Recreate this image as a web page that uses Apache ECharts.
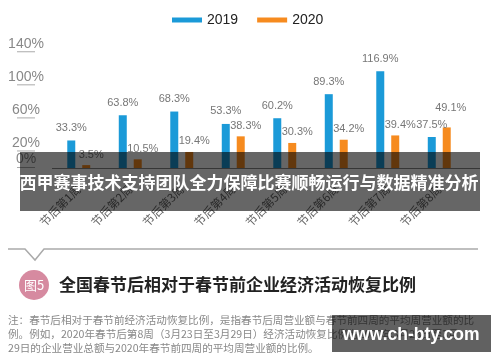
<!DOCTYPE html>
<html><head><meta charset="utf-8">
<script src="https://cdn.jsdelivr.net/npm/echarts@6/dist/echarts.min.js"></script>
<style>html,body{margin:0;padding:0;background:#fff}#c{width:500px;height:362px}</style>
</head><body><div id="c"></div>
<script>
const categories = ['节后第1周','节后第2周','节后第3周','节后第4周','节后第5周','节后第6周','节后第7周','节后第8周'];
const series2019 = [33.3, 63.8, 68.3, 53.3, 60.2, 89.3, 116.9, 37.5];
const series2020 = [3.5, 10.5, 19.4, 38.3, 30.3, 34.2, 39.4, 49.1];
const yTickValues = [0, 20, 60, 100, 140];
const yTickLabels = ['0%', '20%', '60%', '100%', '140%'];
const legendNames = ['2019', '2020'];
const overlayTitle = '西甲赛事技术支持团队全力保障比赛顺畅运行与数据精准分析';
const figTag = '图5';
const figTitle = '全国春节后相对于春节前企业经济活动恢复比例';
const notes = [
  '注：春节后相对于春节前经济活动恢复比例，是指春节后周营业额与春节前四周的平均周营业额的比',
  '例。例如，2020年春节后第8周（3月23日至3月29日）经济活动恢复比例为2020年3月23日至3月',
  '29日的企业营业总额与2020年春节前四周的平均周营业额的比例。'
];
const watermark = 'www.ch-bty.com';

const SANS = '"Liberation Sans", "Noto Sans CJK SC", sans-serif';
const CJK = '"Noto Sans CJK SC", sans-serif';
const chart = echarts.init(document.getElementById('c'), null, {renderer: 'canvas'});

const data2020 = series2020.map((v, i) => i === series2020.length - 1 ? {value: v, label: {offset: [4, -9]}} : v);

chart.setOption({
  animation: false,
  legend: {
    data: legendNames, left: 167, top: 8, icon: 'rect', itemWidth: 30, itemHeight: 5, itemGap: 19,
    textStyle: {fontSize: 14, color: '#222', fontFamily: SANS}
  },
  grid: {left: 53, width: 412, top: 44, height: 124},
  xAxis: {
    type: 'category', data: categories,
    axisLine: {show: false}, axisTick: {show: false},
    axisLabel: {interval: 0, rotate: 45, fontSize: 11.5, color: '#666', margin: 19, fontFamily: CJK}
  },
  yAxis: {
    type: 'value', min: 0, max: 150, interval: 20,
    splitLine: {show: false}, axisLine: {show: false}, axisTick: {show: false},
    axisLabel: {
      margin: 27, align: 'center', verticalAlign: 'bottom',
      formatter: v => { const k = yTickValues.indexOf(v); return k < 0 ? '' : '{t|' + yTickLabels[k] + '}\n{l| }'; },
      rich: {
        t: {fontSize: 14, color: '#888', fontFamily: SANS, lineHeight: 15, align: 'center'},
        l: {width: 18, height: 1, lineHeight: 1, fontSize: 1, backgroundColor: '#aaa', align: 'center'}
      }
    }
  },
  series: [
    {name: legendNames[0], type: 'bar', data: series2019, barWidth: 8, barGap: '87%',
     itemStyle: {color: '#1b9ad8'},
     label: {show: true, position: 'top', distance: 7, formatter: '{c}%', fontSize: 11, color: '#777', fontFamily: SANS}},
    {name: legendNames[1], type: 'bar', data: data2020, barWidth: 8,
     itemStyle: {color: '#f68b1f'},
     label: {show: true, position: 'top', distance: 5, offset: [5, 0], formatter: '{c}%', fontSize: 11, color: '#777', fontFamily: SANS}}
  ],
  graphic: [
    {type: 'line', z: 50, shape: {x1: 52, y1: 168.5, x2: 480, y2: 168.5}, style: {stroke: '#888', lineWidth: 1}},
    {type: 'rect', z: 100, shape: {x: 20, y: 152, width: 460, height: 59}, style: {fill: 'rgba(0,0,0,0.6)'}},
    {type: 'text', z: 101, style: {x: 249, y: 183, text: overlayTitle, fill: '#fff', font: 'bold 17px ' + CJK, textAlign: 'center', textVerticalAlign: 'middle'}},
    {type: 'polyline', z: 50, shape: {points: [[8, 249], [25, 249], [35, 260], [44, 249], [478, 249]]}, style: {stroke: '#aaa', lineWidth: 1.5, fill: null}},
    {type: 'circle', z: 50, shape: {cx: 34, cy: 285, r: 15}, style: {fill: '#d68aa0'}},
    {type: 'text', z: 51, style: {x: 34, y: 285, text: figTag, fill: '#fff', font: '13px ' + CJK, textAlign: 'center', textVerticalAlign: 'middle'}},
    {type: 'text', z: 50, style: {x: 59, y: 285, text: figTitle, fill: '#222', font: 'bold 17px ' + CJK, textAlign: 'left', textVerticalAlign: 'middle'}},
    {type: 'text', z: 50, style: {x: 8, y: 320, text: notes[0], fill: '#888', font: '10.6px ' + CJK, textAlign: 'left', textVerticalAlign: 'middle'}},
    {type: 'text', z: 50, style: {x: 8, y: 334, text: notes[1], fill: '#888', font: '10.6px ' + CJK, textAlign: 'left', textVerticalAlign: 'middle'}},
    {type: 'text', z: 50, style: {x: 8, y: 348, text: notes[2], fill: '#888', font: '10.6px ' + CJK, textAlign: 'left', textVerticalAlign: 'middle'}},
    {type: 'rect', z: 100, shape: {x: 332, y: 315, width: 159, height: 37}, style: {fill: 'rgba(0,0,0,0.62)'}},
    {type: 'text', z: 101, style: {x: 411, y: 335, text: watermark, fill: '#fff', font: 'bold 17.5px ' + SANS, textAlign: 'center', textVerticalAlign: 'middle'}}
  ]
});
</script></body></html>
